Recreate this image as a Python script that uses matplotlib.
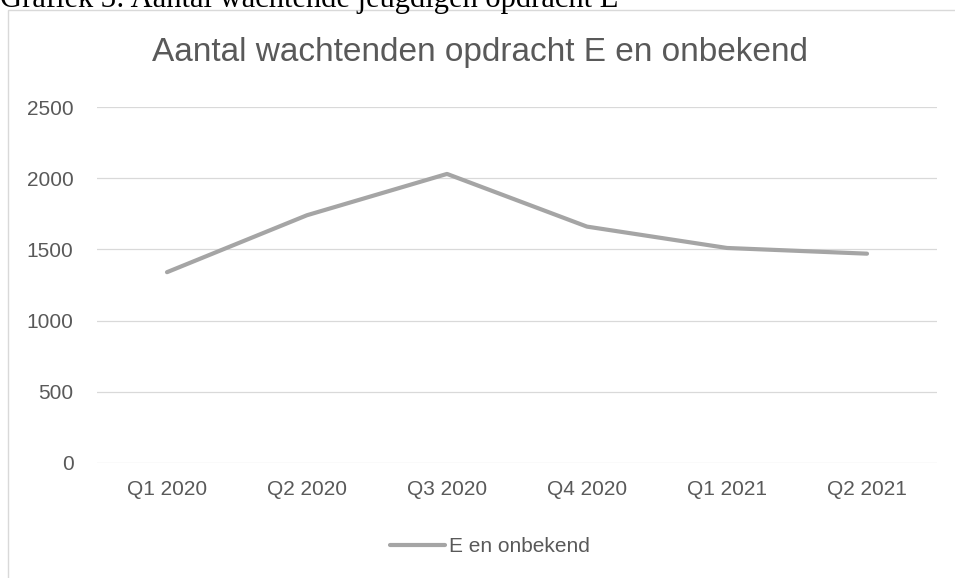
import matplotlib
matplotlib.use("Agg")
import matplotlib.pyplot as plt
from matplotlib.patches import Rectangle

categories = ["Q1 2020", "Q2 2020", "Q3 2020", "Q4 2020", "Q1 2021", "Q2 2021"]
values = [1340, 1740, 2030, 1660, 1510, 1470]
yticks = [0, 500, 1000, 1500, 2000, 2500]

W, H = 955, 578
fig = plt.figure(figsize=(W / 100, H / 100), dpi=100)
fig.patch.set_facecolor("white")

sans = ["Liberation Sans", "DejaVu Sans"]
text_col = "#595959"

# chart frame (runs off the right and bottom edge)
fig.patches.append(Rectangle((8 / W, -0.05), 1.0, (H - 10) / H + 0.05, transform=fig.transFigure,
                             fill=False, edgecolor="#d9d9d9", linewidth=1.0))

# document caption, clipped at the top
fig.text(0 / W, 1 - 7 / H, "Grafiek 3: Aantal wachtende jeugdigen opdracht E", family=["Liberation Serif", "DejaVu Serif"],
         fontsize=22, color="black", ha="left", va="baseline")

ax = fig.add_axes([97 / W, 115 / H, 840 / W, 356 / H])
x = list(range(len(categories)))
ax.plot(x, values, color="#a5a5a5", linewidth=3.0, solid_capstyle="round", solid_joinstyle="round",
        label="E en onbekend", zorder=3)
ax.set_xlim(-0.5, len(categories) - 0.5)
ax.set_ylim(0, 2500)
ax.set_yticks(yticks)
ax.set_yticklabels([str(v) for v in yticks])
ax.set_xticks(x)
ax.set_xticklabels(categories)
for s in ax.spines.values():
    s.set_visible(False)
ax.grid(axis="y", color="#d9d9d9", linewidth=0.9)
ax.set_axisbelow(True)
ax.tick_params(length=0, colors=text_col, labelsize=15)
ax.tick_params(axis="y", pad=17)
ax.tick_params(axis="x", pad=12)
for lab in ax.get_xticklabels() + ax.get_yticklabels():
    lab.set_family(sans)

fig.text(480 / W, 1 - 52 / H, "Aantal wachtenden opdracht E en onbekend", family=sans,
         fontsize=24, color=text_col, ha="center", va="center")

leg = ax.legend(loc="center", bbox_to_anchor=(490 / W, 1 - 547 / H), bbox_transform=fig.transFigure,
                frameon=False, handlelength=2.6, handletextpad=0.2, prop={"family": sans, "size": 15})
for t in leg.get_texts():
    t.set_color(text_col)

fig.savefig("out.png", dpi=100, facecolor="white")
